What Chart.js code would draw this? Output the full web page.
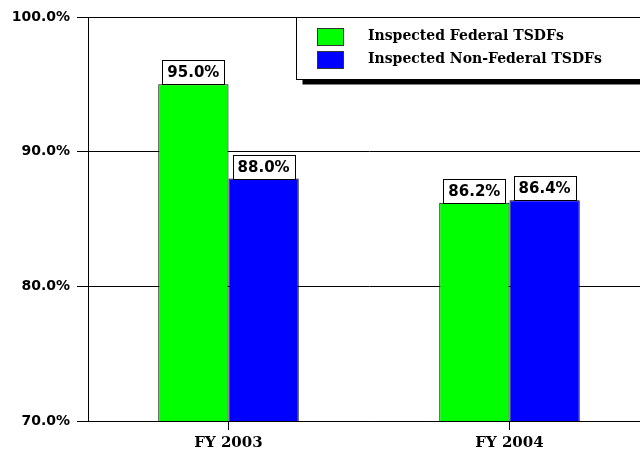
<!DOCTYPE html>
<html>
<head>
<meta charset="utf-8">
<script src="https://cdn.jsdelivr.net/npm/chart.js@4/dist/chart.umd.min.js"></script>
<style>
  html, body { margin: 0; padding: 0; background: #fff; overflow: hidden; }
  #wrap { width: 660px; height: 453px; }
</style>
</head>
<body>
<div id="wrap"><canvas id="chart" width="660" height="453"></canvas></div>
<script>
const categories = ["FY 2003", "FY 2004"];
const seriesNames = ["Inspected Federal TSDFs", "Inspected Non-Federal TSDFs"];
const federal = [95.0, 86.2];
const nonFederal = [88.0, 86.4];
const yTicks = [70, 80, 90, 100];

const SERIF = "'DejaVu Serif', serif";
const SANS = "'DejaVu Sans', sans-serif";

// value boxes sitting on top of each bar
const valueBoxes = {
  id: "valueBoxes",
  afterDatasetsDraw(chart) {
    const ctx = chart.ctx;
    ctx.save();
    ctx.font = "bold 15px " + SANS;
    ctx.textAlign = "center";
    ctx.textBaseline = "middle";
    chart.data.datasets.forEach((ds, i) => {
      chart.getDatasetMeta(i).data.forEach((bar, j) => {
        const txt = ds.data[j].toFixed(1) + "%";
        const w = Math.round(ctx.measureText(txt).width + 10);
        const h = 24;
        const x = Math.round(bar.x - w / 2) + 0.5;
        const y = Math.round(bar.y - h) + 0.5;
        ctx.fillStyle = "#fff";
        ctx.fillRect(x, y, w, h);
        ctx.strokeStyle = "#000";
        ctx.lineWidth = 1;
        ctx.strokeRect(x, y, w, h);
        ctx.fillStyle = "#000";
        ctx.fillText(txt, bar.x, y + h / 2 + 1);
      });
    });
    ctx.restore();
  }
};

// boxed legend with drop shadow, top right
const boxLegend = {
  id: "boxLegend",
  afterDraw(chart) {
    const ctx = chart.ctx;
    const bx = 296.5, by = 17.5, bw = 350, bh = 62;
    ctx.save();
    ctx.fillStyle = "#000";
    ctx.fillRect(bx + 6, by + bh, bw, 5);
    ctx.fillStyle = "#fff";
    ctx.fillRect(bx, by, bw, bh);
    ctx.strokeStyle = "#000";
    ctx.lineWidth = 1;
    ctx.strokeRect(bx, by, bw, bh);
    ctx.font = "bold 14px " + SERIF;
    ctx.textBaseline = "middle";
    chart.data.datasets.forEach((ds, i) => {
      const y = 28.5 + i * 23;
      ctx.fillStyle = ds.backgroundColor;
      ctx.fillRect(317.5, y, 26, 17);
      ctx.strokeStyle = "#333";
      ctx.strokeRect(317.5, y, 26, 17);
      ctx.fillStyle = "#000";
      ctx.fillText(ds.label, 368, y + 8);
    });
    ctx.restore();
  }
};

new Chart(document.getElementById("chart"), {
  type: "bar",
  data: {
    labels: categories,
    datasets: [
      { label: seriesNames[0], data: federal, backgroundColor: "#00ff00", borderColor: "#000", borderWidth: 1 },
      { label: seriesNames[1], data: nonFederal, backgroundColor: "#0000ff", borderColor: "#000", borderWidth: 1 },
    ],
  },
  options: {
    responsive: false,
    animation: false,
    layout: { padding: { top: 17, right: 10, left: 0, bottom: 0 } },
    datasets: { bar: { categoryPercentage: 0.5, barPercentage: 1 } },
    scales: {
      x: {
        afterFit: s => { s.height = 32; },
        grid: { offset: false, drawOnChartArea: false, tickLength: 9, color: "#000" },
        border: { color: "#000" },
        ticks: { color: "#000", font: { family: SERIF, size: 15, weight: "bold" }, padding: 4 },
      },
      y: {
        min: 70, max: 100,
        afterFit: s => { s.width = 88; },
        afterBuildTicks: s => { s.ticks = yTicks.map(v => ({ value: v })); },
        grid: { color: "#000", tickLength: 11 },
        border: { color: "#000" },
        ticks: { color: "#000", padding: 7, font: { family: SANS, size: 14, weight: "bold" }, callback: v => v.toFixed(1) + "%" },
      },
    },
    plugins: { legend: { display: false }, tooltip: { enabled: false } },
  },
  plugins: [valueBoxes, boxLegend],
});
</script>
</body>
</html>
